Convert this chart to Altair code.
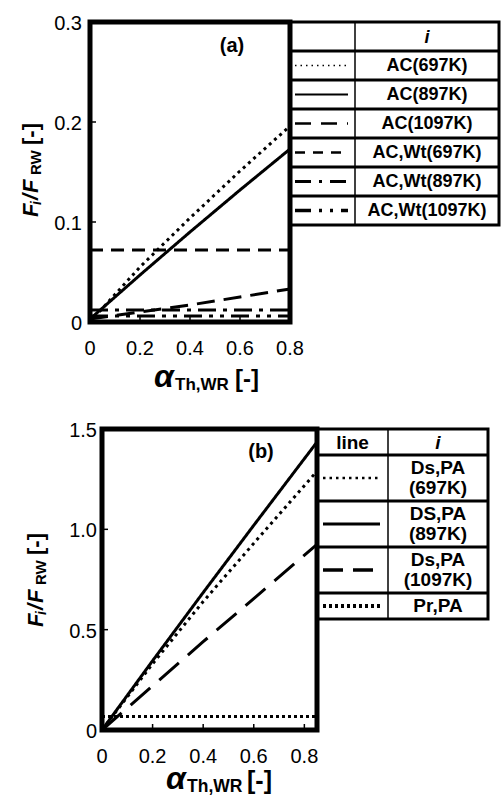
import altair as alt
import pandas as pd

FONT = "Liberation Sans"

# ---------------- panel (a) data ----------------
a_alpha = [0.0, 0.2, 0.4, 0.6, 0.8]
a_ac697 = [0.0, 0.055, 0.104, 0.151, 0.196]
a_ac897 = [0.003, 0.047, 0.090, 0.132, 0.173]
a_ac1097 = [0.003, 0.010, 0.017, 0.025, 0.033]
a_wt697 = [0.072, 0.072, 0.072, 0.072, 0.072]
a_wt897 = [0.012, 0.012, 0.012, 0.012, 0.012]
a_wt1097 = [0.006, 0.006, 0.006, 0.006, 0.006]
a_names = ["AC(697K)", "AC(897K)", "AC(1097K)", "AC,Wt(697K)", "AC,Wt(897K)", "AC,Wt(1097K)"]
a_labels = ["AC(697K)", "AC(897K)", "AC(1097K)", "AC,Wt(697K)", "AC,Wt(897K)", "AC,Wt(1097K)"]
a_xticks = [0, 0.2, 0.4, 0.6, 0.8]
a_yticks = [0, 0.1, 0.2, 0.3]

# ---------------- panel (b) data ----------------
b_alpha = [0.0, 0.2, 0.4, 0.6, 0.85]
b_ds697 = [0.0, 0.33, 0.64, 0.93, 1.29]
b_ds897 = [0.0, 0.345, 0.685, 1.02, 1.435]
b_ds1097 = [0.0, 0.22, 0.44, 0.655, 0.925]
b_prpa = [0.067, 0.067, 0.067, 0.067, 0.067]
b_names = ["Ds,PA(697K)", "DS,PA(897K)", "Ds,PA(1097K)", "Pr,PA"]
b_labels = ["Ds,PA|(697K)", "DS,PA|(897K)", "Ds,PA|(1097K)", "Pr,PA"]
b_xticks = [0, 0.2, 0.4, 0.6, 0.8]
b_yticks = [0, 0.5, 1.0, 1.5]

# ---------------- styles ----------------
a_dash = [[3, 4], [1, 0], [18, 9], [13, 8], [18, 7, 4, 7], [18, 7, 4, 7, 4, 7]]
a_width = [3, 3, 3.5, 3.5, 3.5, 3.5]
a_leg_dash = [[1.5, 4], [1, 0], [16, 10], [10, 8], [16, 8, 3, 8], [16, 8, 3, 8, 3, 8]]
a_leg_width = [1.5, 3.5, 3.5, 3.5, 3.5, 3.5]
b_dash = [[3, 4], [1, 0], [26, 12], [3, 3]]
b_width = [3, 3, 3, 3.5]
b_leg_dash = [[2.5, 4], [1, 0], [20, 10], [3, 3]]
b_leg_width = [2.5, 4, 4, 3.5]

# panel boxes in page pixels: left, right, top, bottom
A_BOX = (90, 290, 22, 322)
B_BOX = (102, 317, 429, 730)

LAB = "datum.t == 0 ? '0' : format(datum.t, '.1f')"


def long_df(alpha, names, series):
    rows = []
    for n, vals in zip(names, series):
        for a, v in zip(alpha, vals):
            rows.append({"alpha": a, "value": v, "series": n})
    return pd.DataFrame(rows)


def piece(text, x, y, size, italic=False, angle=0, align="left", baseline="alphabetic", bold=True):
    kw = dict(align=align, baseline=baseline, font=FONT, fontSize=size,
              fontWeight="bold" if bold else "normal",
              fontStyle="italic" if italic else "normal", color="black")
    if angle:
        kw["angle"] = angle
    return alt.Chart(pd.DataFrame({"s": [text]})).mark_text(**kw).encode(
        text="s:N", x=alt.value(x), y=alt.value(y))


def panel_layers(df, names, dashes, widths, xdom, ydom, xticks, yticks, box, tag, tag_xy,
                 yt_x, yt_y, xt_x, xt_y, xt_sizes, ylab_gap):
    L, R, T, B = box

    def X(f):
        return alt.X(f, scale=alt.Scale(domain=xdom, range=[L, R], nice=False, zero=False), axis=None)

    def Y(f):
        return alt.Y(f, scale=alt.Scale(domain=ydom, range=[B, T], nice=False, zero=False), axis=None)

    lines = alt.Chart(df).mark_line(color="black", strokeCap="butt").encode(
        x=X("alpha:Q"), y=Y("value:Q"),
        strokeDash=alt.StrokeDash("series:N", scale=alt.Scale(domain=names, range=dashes), legend=None),
        strokeWidth=alt.StrokeWidth("series:N", scale=alt.Scale(domain=names, range=widths), legend=None),
    )
    frame_df = pd.DataFrame({"x0": [xdom[0]], "x1": [xdom[1]], "y0": [ydom[0]], "y1": [ydom[1]]})
    frame = alt.Chart(frame_df).mark_rect(filled=False, stroke="black", strokeWidth=5).encode(
        x=X("x0:Q"), x2="x1:Q", y=Y("y0:Q"), y2="y1:Q")
    inner_x = [t for t in xticks if xdom[0] < t < xdom[1]]
    inner_y = [t for t in yticks if ydom[0] < t < ydom[1]]
    xt = alt.Chart(pd.DataFrame({"t": inner_x})).mark_rule(color="black", strokeWidth=1.5).encode(
        x=X("t:Q"), y=alt.value(B), y2=alt.value(B - 6))
    yt = alt.Chart(pd.DataFrame({"t": inner_y})).mark_rule(color="black", strokeWidth=1.5).encode(
        y=Y("t:Q"), x=alt.value(L), x2=alt.value(L + 6))
    xlab = alt.Chart(pd.DataFrame({"t": xticks})).transform_calculate(lab=LAB).mark_text(
        font=FONT, fontSize=20, align="center", baseline="alphabetic", color="black").encode(
        x=X("t:Q"), y=alt.value(B + 33), text="lab:N")
    ylab = alt.Chart(pd.DataFrame({"t": yticks})).transform_calculate(lab=LAB).mark_text(
        font=FONT, fontSize=20, align="right", baseline="alphabetic", dy=8, color="black").encode(
        y=Y("t:Q"), x=alt.value(L - ylab_gap), text="lab:N")
    tag_mark = piece(tag, tag_xy[0], tag_xy[1], 20, align="center", baseline="middle")
    ytitle = [
        piece("F", yt_x, yt_y, 22, italic=True, angle=270),
        piece("i", yt_x + 3, yt_y - 12, 14, italic=True, angle=270),
        piece("/", yt_x, yt_y - 17, 22, italic=True, angle=270),
        piece("F", yt_x, yt_y - 24, 22, italic=True, angle=270),
        piece("RW", yt_x + 3, yt_y - 42, 15, angle=270),
        piece("[-]", yt_x, yt_y - 72, 22, angle=270),
    ]
    xtitle = [
        piece("α", xt_x - 1, xt_y, 32, italic=True),
        piece("Th,WR", xt_x + 20, xt_y + 3, xt_sizes[0]),
        piece("[-]", xt_x + 80, xt_y, xt_sizes[1]),
    ]
    return [lines, xt, yt, frame, xlab, ylab, tag_mark] + ytitle + xtitle


def table_layers(keys, labels, head1, x0, x1, col1, top, unit, pad, fs, dashes, widths, sx0, sx1):
    nlines = [lbl.count("|") + 1 for lbl in labels]
    heights = [pad + unit] + [pad + unit * n for n in nlines]
    tops = [sum(heights[:k]) for k in range(len(heights))]
    total = sum(heights)
    mids = [t + hh / 2 for t, hh in zip(tops[1:], heights[1:])]
    rows = pd.DataFrame({
        "key": keys,
        "label": labels,
        "top": tops[1:],
        "mid": mids,
        "tmid": [m - (n - 1) * unit / 2 for m, n in zip(mids, nlines)],
    })

    def Y(f):
        return alt.Y(f, scale=alt.Scale(domain=[0, total], range=[top, top + total], nice=False, zero=False), axis=None)

    seps = alt.Chart(rows).mark_rule(color="black", strokeWidth=3).encode(
        y=Y("top:Q"), x=alt.value(x0), x2=alt.value(x1))
    box = alt.Chart(pd.DataFrame({"k": [0]})).mark_rect(filled=False, stroke="black", strokeWidth=3).encode(
        x=alt.value(x0), x2=alt.value(x1), y=alt.value(top), y2=alt.value(top + total))
    divider = alt.Chart(pd.DataFrame({"k": [0]})).mark_rule(color="black", strokeWidth=1.5).encode(
        x=alt.value(col1), y=alt.value(top), y2=alt.value(top + total))
    names = alt.Chart(rows).transform_calculate(txt="split(datum.label, '|')").mark_text(
        font=FONT, fontSize=fs, fontWeight="bold", lineHeight=unit, align="center",
        baseline="middle", color="black").encode(
        x=alt.value((col1 + x1) / 2), y=Y("tmid:Q"), text="txt:N")
    samples = alt.Chart(rows).mark_rule(color="black", strokeCap="butt").encode(
        x=alt.value(sx0), x2=alt.value(sx1), y=Y("mid:Q"),
        strokeDash=alt.StrokeDash("key:N", scale=alt.Scale(domain=keys, range=dashes), legend=None),
        strokeWidth=alt.StrokeWidth("key:N", scale=alt.Scale(domain=keys, range=widths), legend=None))
    hy = top + heights[0] / 2 + 1
    hdr = [piece("i", (col1 + x1) / 2, hy, fs, italic=True, align="center", baseline="middle")]
    if head1:
        hdr.append(piece(head1, (x0 + col1) / 2, hy, fs, align="center", baseline="middle"))
    return [seps, divider, box, names, samples] + hdr


df_a = long_df(a_alpha, a_names, [a_ac697, a_ac897, a_ac1097, a_wt697, a_wt897, a_wt1097])
df_b = long_df(b_alpha, b_names, [b_ds697, b_ds897, b_ds1097, b_prpa])

layers = []
layers += table_layers(a_names, a_labels, "", 290, 499, 355, 22, 20, 9, 18,
                       a_leg_dash, a_leg_width, 295, 348)
layers += table_layers(b_names, b_labels, "line", 317, 488, 388, 429, 20, 6, 19,
                       b_leg_dash, b_leg_width, 323, 380)
layers += panel_layers(df_a, a_names, a_dash, a_width, [0, 0.8], [0, 0.3], a_xticks, a_yticks,
                       A_BOX, "(a)", (232, 46), 38, 217, 155, 387, (17, 24), 8)
layers += panel_layers(df_b, b_names, b_dash, b_width, [0, 0.85], [0, 1.5], b_xticks, b_yticks,
                       B_BOX, "(b)", (261, 452), 43, 627, 167, 789, (17.5, 25), 5)

chart = alt.layer(*layers).resolve_scale(
    x="independent", y="independent", strokeDash="independent", strokeWidth="independent"
).properties(
    width=501, height=801, padding=0, autosize=alt.AutoSizeParams(type="none")
).configure_view(strokeWidth=0)

chart.save("out.html", embed_options={"renderer": "svg", "actions": False})
